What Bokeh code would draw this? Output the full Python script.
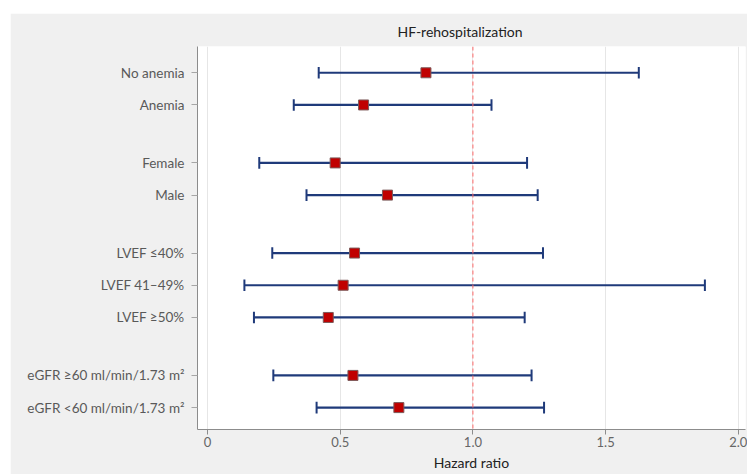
from bokeh.plotting import figure
from bokeh.models import Range1d, FixedTicker, Span
from bokeh.embed import file_html
from bokeh.resources import INLINE

# ---- data ----
groups = [
    ["No anemia", "Anemia"],
    ["Female", "Male"],
    ["LVEF \u226440%", "LVEF 41\u201349%", "LVEF \u226550%"],
    ["eGFR \u226560 ml/min/1.73 m\u00b2", "eGFR <60 ml/min/1.73 m\u00b2"],
]
hr    = [0.823, 0.588, 0.481, 0.678, 0.554, 0.511, 0.455, 0.548, 0.721]
lower = [0.419, 0.325, 0.195, 0.373, 0.244, 0.139, 0.175, 0.248, 0.411]
upper = [1.625, 1.070, 1.204, 1.244, 1.264, 1.874, 1.195, 1.221, 1.268]
x_ticks = [0, 0.5, 1.0, 1.5, 2.0]
ref_value = 1.0

# ---- row positions (in-group step 5, between-group step 9) ----
labels, ypos = [], []
pos = 0
for gi, g in enumerate(groups):
    if gi > 0:
        pos += 4
    for lab in g:
        labels.append(lab)
        ypos.append(pos)
        pos += 5

FONT = "Lato"
BG = "#f0f0f0"

p = figure(width=737, height=461, output_backend="svg", toolbar_location=None,
           x_range=Range1d(-0.0377, 2.027), y_range=Range1d(55.4, -4.08),
           min_border_left=187, min_border_right=2, min_border_top=33,
           min_border_bottom=45, margin=(13, 0, 0, 10),
           background_fill_color="white", border_fill_color=BG,
           outline_line_color=None, title="HF-rehospitalization")

p.title.align = "left"
p.title.text_font = FONT
p.title.text_font_size = "14px"
p.title.text_font_style = "normal"
p.title.text_color = "#222222"
p.title.offset = 200
p.title.standoff = 14

# grid
p.ygrid.grid_line_color = None
p.xgrid.grid_line_color = "#e6e6e6"
p.xgrid.ticker = FixedTicker(ticks=x_ticks)

# x axis
p.xaxis.ticker = FixedTicker(ticks=x_ticks)
p.xaxis.formatter.use_scientific = False
p.xaxis.major_label_overrides = {0: "0", 0.5: "0.5", 1.0: "1.0", 1.5: "1.5", 2.0: "2.0"}
p.xaxis.axis_label = "Hazard ratio"
p.xaxis.axis_label_text_font = FONT
p.xaxis.axis_label_text_font_size = "14px"
p.xaxis.axis_label_text_font_style = "normal"
p.xaxis.axis_label_text_color = "#222222"
p.xaxis.axis_label_standoff = 4
p.xaxis.major_label_text_font = FONT
p.xaxis.major_label_text_font_size = "13px"
p.xaxis.major_label_text_color = "#666666"
p.xaxis.major_label_standoff = 2
p.xaxis.axis_line_color = "#8c8c8c"
p.xaxis.major_tick_line_color = "#8c8c8c"
p.xaxis.major_tick_out = 5
p.xaxis.major_tick_in = 0
p.xaxis.minor_tick_line_color = None

# y axis
p.yaxis.ticker = FixedTicker(ticks=ypos)
p.yaxis.major_label_overrides = {y: lab for y, lab in zip(ypos, labels)}
p.yaxis.major_label_text_font = FONT
p.yaxis.major_label_text_font_size = "13.5px"
p.yaxis.major_label_text_color = "#595959"
p.yaxis.major_label_standoff = 7
p.yaxis.axis_line_color = "#8c8c8c"
p.yaxis.major_tick_line_color = "#a6a6a6"
p.yaxis.major_tick_out = 6
p.yaxis.major_tick_in = 0
p.yaxis.minor_tick_line_color = None

# reference line
p.add_layout(Span(location=ref_value, dimension="height", line_color="#ff6b6b",
                  line_dash="4 3", line_width=1))

# error bars
BAR = "#1f3a7a"
p.segment(x0=lower, x1=upper, y0=ypos, y1=ypos, line_color=BAR, line_width=2.2)
p.segment(x0=lower, x1=lower, y0=[y - 0.9 for y in ypos], y1=[y + 0.9 for y in ypos],
          line_color=BAR, line_width=2)
p.segment(x0=upper, x1=upper, y0=[y - 0.9 for y in ypos], y1=[y + 0.9 for y in ypos],
          line_color=BAR, line_width=2)

# point estimates
p.scatter(x=hr, y=ypos, marker="square", size=10, fill_color="#c00000",
          line_color="#7d5a5a", line_width=1)

open("out.html", "w").write(file_html(p, INLINE))
